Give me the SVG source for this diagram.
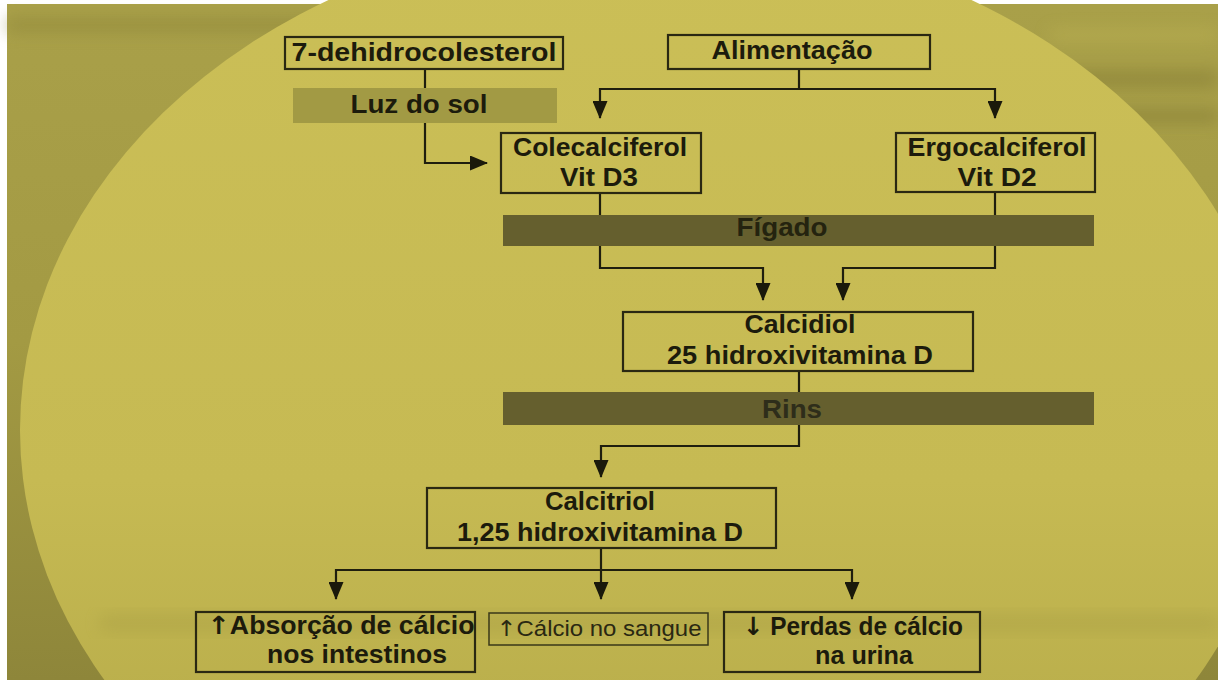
<svg xmlns="http://www.w3.org/2000/svg" width="1218" height="680" viewBox="0 0 1218 680">
<defs>
<style>
.box{fill:none;stroke:#2a2812;stroke-width:2.2}
.thin{fill:none;stroke:#3a3818;stroke-width:1.5}
.lbl{font-family:"Liberation Sans",Arial,sans-serif;font-weight:bold;font-size:25px;fill:#1c1b0c;text-anchor:middle}
.lite{font-family:"Liberation Sans",Arial,sans-serif;font-weight:normal;font-size:22px;fill:#2a2812;text-anchor:middle}
.arr{font-family:"DejaVu Sans",sans-serif;font-weight:bold}
.barl{fill:#a29a44}
.bard{fill:#655f2e}
.ln{fill:none;stroke:#1f1e0e;stroke-width:2.2}
</style>
<marker id="ah" viewBox="0 0 18 15" refX="17" refY="7.5" markerWidth="18" markerHeight="15" markerUnits="userSpaceOnUse" orient="auto">
<path d="M0,0 L18,7.5 L0,15 Z" fill="#1a190b"/>
</marker>
<linearGradient id="gout" x1="0" y1="0" x2="0" y2="1">
<stop offset="0" stop-color="#a9a049"/>
<stop offset="0.5" stop-color="#a39a43"/>
<stop offset="1" stop-color="#8e863a"/>
</linearGradient>
<linearGradient id="gin" x1="0" y1="0" x2="0" y2="1">
<stop offset="0" stop-color="#cbbf57"/>
<stop offset="0.55" stop-color="#c6ba53"/>
<stop offset="0.8" stop-color="#b9ae4b"/>
<stop offset="0.92" stop-color="#aea345"/>
<stop offset="1" stop-color="#a99f42"/>
</linearGradient>
<filter id="blur" x="-20%" y="-50%" width="140%" height="200%"><feGaussianBlur stdDeviation="8"/></filter>
</defs>
<rect x="0" y="0" width="1218" height="680" fill="#ffffff"/>
<g id="background">
<rect x="7" y="4" width="1211" height="676" fill="url(#gout)"/>
<g filter="url(#blur)" opacity="0.55">
<rect x="7" y="18" width="420" height="14" fill="#8c8438"/>
<rect x="1000" y="70" width="218" height="18" fill="#857d34"/>
<rect x="1080" y="110" width="138" height="12" fill="#7d7530"/>
<rect x="1050" y="30" width="168" height="10" fill="#c0b655"/>
</g>
<ellipse cx="650" cy="430" rx="630" ry="500" fill="url(#gin)"/>
<g filter="url(#blur)" opacity="0.25">
<rect x="100" y="615" width="1118" height="16" fill="#958c3b"/>
</g>
</g>
<g id="connectors">
<polyline class="ln" points="425,69 425,163 487,163" marker-end="url(#ah)"/>
<line class="ln" x1="799" y1="69" x2="799" y2="89"/>
<polyline class="ln" points="799,89 600,89 600,118" marker-end="url(#ah)"/>
<polyline class="ln" points="799,89 995,89 995,118" marker-end="url(#ah)"/>
<polyline class="ln" points="600,193 600,268 763,268 763,300" marker-end="url(#ah)"/>
<polyline class="ln" points="995,192 995,268 843,268 843,300" marker-end="url(#ah)"/>
<line class="ln" x1="799" y1="371" x2="799" y2="392"/>
<polyline class="ln" points="799,425 799,446 601,446 601,477" marker-end="url(#ah)"/>
<line class="ln" x1="601" y1="548" x2="601" y2="599" marker-end="url(#ah)"/>
<polyline class="ln" points="601,570 336,570 336,599" marker-end="url(#ah)"/>
<polyline class="ln" points="601,570 852,570 852,599" marker-end="url(#ah)"/>
</g>
<g id="n-dehidro">
<rect class="box" x="285" y="37" width="278" height="32"/>
<text class="lbl" x="424" y="61" textLength="265" lengthAdjust="spacingAndGlyphs">7-dehidrocolesterol</text>
</g>
<g id="n-alimentacao">
<rect class="box" x="668" y="35" width="262" height="34"/>
<text class="lbl" x="792" y="59" textLength="161" lengthAdjust="spacingAndGlyphs">Alimentação</text>
</g>
<g id="n-luz">
<rect class="barl" x="293" y="88" width="264" height="35"/>
<text class="lbl" x="419" y="113" textLength="137" lengthAdjust="spacingAndGlyphs">Luz do sol</text>
</g>
<g id="n-colecalciferol">
<rect class="box" x="501" y="133" width="200" height="60"/>
<text class="lbl" x="600" y="156" textLength="174" lengthAdjust="spacingAndGlyphs">Colecalciferol</text>
<text class="lbl" x="599" y="186" textLength="78" lengthAdjust="spacingAndGlyphs">Vit D3</text>
</g>
<g id="n-ergocalciferol">
<rect class="box" x="896" y="133" width="199" height="59"/>
<text class="lbl" x="997" y="156" textLength="179" lengthAdjust="spacingAndGlyphs">Ergocalciferol</text>
<text class="lbl" x="997" y="186" textLength="79" lengthAdjust="spacingAndGlyphs">Vit D2</text>
</g>
<g id="n-figado">
<rect class="bard" x="503" y="215" width="591" height="31"/>
<text class="lbl" x="782" y="236" textLength="91" lengthAdjust="spacingAndGlyphs" style="fill:#24230f">Fígado</text>
</g>
<g id="n-calcidiol">
<rect class="box" x="623" y="312" width="350" height="59"/>
<text class="lbl" x="800" y="333" textLength="111" lengthAdjust="spacingAndGlyphs">Calcidiol</text>
<text class="lbl" x="800" y="364" textLength="266" lengthAdjust="spacingAndGlyphs">25 hidroxivitamina D</text>
</g>
<g id="n-rins">
<rect class="bard" x="503" y="392" width="591" height="33"/>
<text class="lbl" x="792" y="418" textLength="60" lengthAdjust="spacingAndGlyphs" style="fill:#2e2d1a">Rins</text>
</g>
<g id="n-calcitriol">
<rect class="box" x="427" y="488" width="349" height="60"/>
<text class="lbl" x="600" y="510" textLength="110" lengthAdjust="spacingAndGlyphs">Calcitriol</text>
<text class="lbl" x="600" y="541" textLength="286" lengthAdjust="spacingAndGlyphs">1,25 hidroxivitamina D</text>
</g>
<g id="n-absorcao">
<rect class="box" x="196" y="612" width="279" height="60"/>
<text class="lbl" x="341" y="634" textLength="267" lengthAdjust="spacingAndGlyphs"><tspan class="arr">↑</tspan>Absorção de cálcio</text>
<text class="lbl" x="357" y="663" textLength="180" lengthAdjust="spacingAndGlyphs">nos intestinos</text>
</g>
<g id="n-sangue">
<rect class="thin" x="489" y="613" width="219" height="32"/>
<text class="lite" x="599" y="636" textLength="205" lengthAdjust="spacingAndGlyphs"><tspan class="arr" style="font-weight:normal">↑</tspan>Cálcio no sangue</text>
</g>
<g id="n-perdas">
<rect class="box" x="724" y="612" width="256" height="60"/>
<text class="lbl" x="853" y="635" textLength="220" lengthAdjust="spacingAndGlyphs"><tspan class="arr">↓</tspan> Perdas de cálcio</text>
<text class="lbl" x="864" y="664" textLength="98" lengthAdjust="spacingAndGlyphs">na urina</text>
</g>
</svg>
